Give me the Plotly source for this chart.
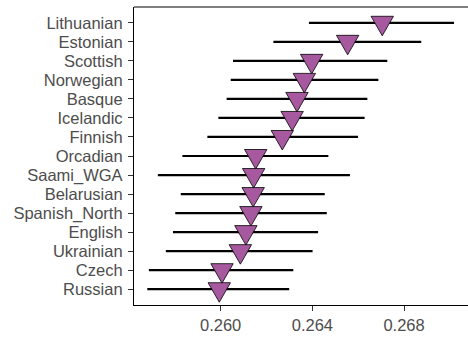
import plotly.graph_objects as go

populations = ["Lithuanian", "Estonian", "Scottish", "Norwegian", "Basque", "Icelandic",
               "Finnish", "Orcadian", "Saami_WGA", "Belarusian", "Spanish_North", "English",
               "Ukrainian", "Czech", "Russian"]
estimate = [0.26705, 0.26554, 0.26397, 0.26365, 0.26333, 0.26312, 0.26269, 0.26153,
            0.26144, 0.26142, 0.26132, 0.26110, 0.26086, 0.26006, 0.25994]
lower = [0.26385, 0.26230, 0.26054, 0.26044, 0.26026, 0.25990, 0.25942, 0.25833,
         0.25726, 0.25826, 0.25802, 0.25792, 0.25761, 0.25687, 0.25680]
upper = [0.27018, 0.26875, 0.26727, 0.26688, 0.26640, 0.26628, 0.26599, 0.26470,
         0.26564, 0.26454, 0.26463, 0.26425, 0.26401, 0.26317, 0.26299]
x_ticks = [0.260, 0.264, 0.268]
x_tick_labels = ["0.260", "0.264", "0.268"]

n = len(populations)
ypos = [n - 1 - i for i in range(n)]

fig = go.Figure()
fig.add_trace(go.Scatter(
    x=estimate, y=ypos, mode="markers",
    marker=dict(size=1, opacity=0),
    error_x=dict(type="data", symmetric=False,
                 array=[u - e for u, e in zip(upper, estimate)],
                 arrayminus=[e - l for e, l in zip(estimate, lower)],
                 color="black", thickness=2.2, width=0),
    showlegend=False, hoverinfo="x+y",
))

tri_path = "M -11.2,6.5 L 11.2,6.5 L 0,-13 Z"
for e, yv in zip(estimate, ypos):
    fig.add_shape(type="path", xref="x", yref="y",
                  xsizemode="pixel", ysizemode="pixel",
                  xanchor=e, yanchor=yv, path=tri_path,
                  fillcolor="#A6599F", line=dict(color="black", width=0.8),
                  layer="above")

fig.add_shape(type="line", xref="paper", yref="paper", x0=0, x1=1, y0=1, y1=1,
              line=dict(color="black", width=1.2))

font = dict(family="Arial, Liberation Sans, sans-serif", size=16.5, color="#4D4D4D")
fig.update_layout(
    width=468, height=339,
    margin=dict(l=134, r=0, t=7, b=34),
    plot_bgcolor="white", paper_bgcolor="white",
    font=font,
    xaxis=dict(range=[0.25622, 0.27079], tickvals=x_ticks, ticktext=x_tick_labels,
               showgrid=False, zeroline=False, showline=True, linecolor="black",
               linewidth=1.2, ticks="outside", ticklen=5, tickcolor="#333333",
               tickfont=font, automargin=False),
    yaxis=dict(range=[-0.83, 14.83], tickvals=ypos, ticktext=populations,
               showgrid=False, zeroline=False, showline=True, linecolor="black",
               linewidth=1.2, ticks="outside", ticklen=5, tickcolor="#333333",
               tickfont=font, automargin=False, ticklabelstandoff=2),
)
fig.write_html("out.html",
               config={"displayModeBar": False},
               post_script="document.body.style.margin='0';document.body.style.overflow='hidden';")
